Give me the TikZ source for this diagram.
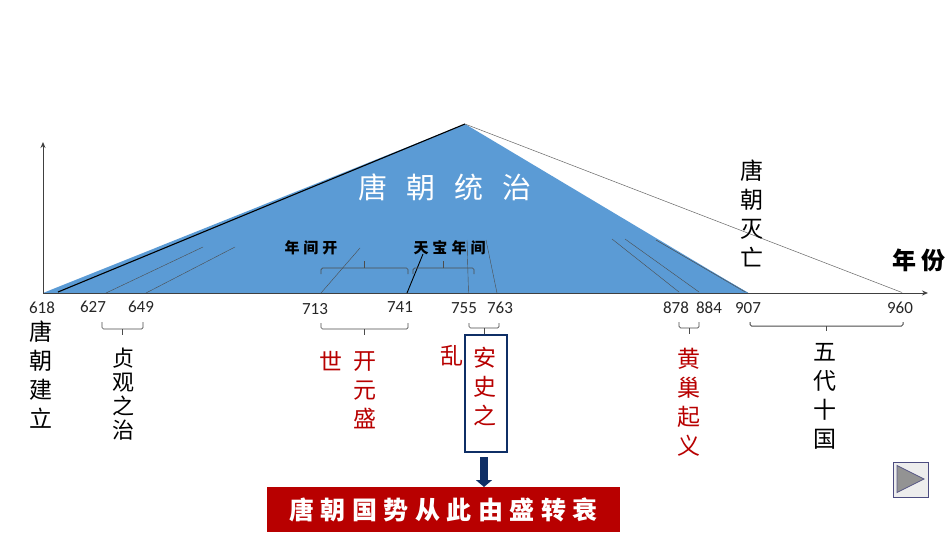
\documentclass[tikz,border=0pt]{standalone}
\usepackage{fontspec}
\setmainfont{Carlito}
\newfontfamily\cjk{Noto Sans CJK SC}
\usetikzlibrary{arrows.meta}
\definecolor{tangblue}{HTML}{5B9BD5}
\definecolor{tangred}{HTML}{B80000}
\definecolor{navy}{HTML}{0F2F66}
\definecolor{axisgray}{HTML}{404040}
\tikzset{
  num/.style={inner sep=0pt,font=\fontsize{17}{17}\selectfont,text=black!85},
  vblack/.style={inner sep=0pt,align=center,font=\cjk\fontsize{23}{29}\selectfont,text=black},
  vred/.style={inner sep=0pt,align=center,font=\cjk\fontsize{23}{29}\selectfont,text=tangred},
  cal/.style={inner sep=0pt,font=\cjk\bfseries\fontsize{15}{15}\selectfont,text=black},
  thin line/.style={draw=black!70,line width=0.4pt},
  brace line/.style={draw=black!70,line width=0.7pt,rounded corners=1.5pt},
}
\newcommand{\braceat}[5]{% x1 x2 ytop yh ytip
  \draw[brace line] (#1,#3) -- (#1,#4) -- (#2,#4) -- (#2,#3);
  \draw[brace line] ({(#1+#2)/2},#4) -- ({(#1+#2)/2},#5);
}
\begin{document}
\begin{tikzpicture}[x=1pt,y=-1pt]
\useasboundingbox (0,0) rectangle (950,535);
\fill[white] (0,0) rectangle (950,535);
% triangle
\coordinate (o) at (43,293);
\coordinate (apex) at (465,124);
\coordinate (tr) at (748,293);
\coordinate (end) at (902,292.5);
\fill[tangblue] (o) -- (apex) -- (tr) -- cycle;
\draw[black,line width=1.1pt] (58,292) -- (apex);
\draw[black!60,line width=0.5pt] (apex) -- (end);
\draw[tangblue!85!black,line width=0.6pt] (656,240) -- (tr);
% internal lines
\draw[thin line] (106,293) -- (203,247);
\draw[thin line] (146,293) -- (235,247);
\draw[thin line] (321,293) -- (360,248);
\draw[black,line width=0.9pt] (407,293) -- (423,254);
\draw[thin line] (468.5,293) -- (467,240);
\draw[thin line] (497,293) -- (486,240);
\draw[thin line] (679,292) -- (612,239);
\draw[thin line] (699,292) -- (625,239);
\draw[thin line] (745,292) -- (656,240);
% axes
\draw[axisgray,line width=1pt,-{Stealth[length=6pt,width=5pt]}] (o) -- (43,142);
\draw[axisgray,line width=1pt,-{Stealth[length=6pt,width=5pt]}] (o) -- (928,293);
% upper labels
\node[inner sep=0pt,text=white,font=\cjk\fontsize{29}{29}\selectfont] (tongzhi) at (445,187) {唐\hspace{19pt}朝\hspace{19pt}统\hspace{19pt}治};
\node[cal] (kaiyuan) at (311,248) {年\hspace{4pt}间\hspace{4pt}开};
\node[cal] (tianbao) at (449.5,248) {天\hspace{4pt}宝\hspace{4pt}年\hspace{4pt}间};
\node[inner sep=0pt,font=\cjk\bfseries\fontsize{24}{24}\selectfont] (nianfen) at (919,260) {年\hspace{5pt}份};
\node[vblack] (miewang) at (752,213.5) {唐\\朝\\灭\\亡};
% upper braces
\draw[brace line] (321,274) -- (321,268) -- (408,268) -- (408,274);
\draw[brace line] (364.5,268) -- (364.5,261);
\draw[brace line] (413,274) -- (413,268) -- (474,268) -- (474,274);
\draw[brace line] (443.5,268) -- (443.5,261);
% year numbers
\node[num] (y618) at (42,308) {618};
\node[num] (y627) at (93,307) {627};
\node[num] (y649) at (141,307) {649};
\node[num] (y713) at (315,309) {713};
\node[num] (y741) at (400,307) {741};
\node[num] (y755) at (464,308) {755};
\node[num] (y763) at (500,308) {763};
\node[num] (y878) at (676,308) {878};
\node[num] (y884) at (709,308) {884};
\node[num] (y907) at (748,308) {907};
\node[num] (y960) at (900,308) {960};
% lower braces
\braceat{102}{143}{322}{329}{335}
\braceat{321}{408}{323}{329}{335}
\braceat{469}{499}{323}{328}{335}
\braceat{679}{699}{322}{328}{334}
\draw[brace line,line width=1pt] (750,322) -- (750,326) -- (903,326) -- (903,322);
\draw[brace line,line width=1pt] (826,326) -- (826,331);
% lower labels
\node[vblack] (jianli) at (41,375) {唐\\朝\\建\\立};
\node[vblack,font=\cjk\fontsize{22}{24}\selectfont] (zhenguan) at (123,394) {贞\\观\\之\\治};
\node[vblack] (wudai) at (825,396.5) {五\\代\\十\\国};
\node[vred] (shi) at (331,361) {世};
\node[vred] (kaisheng) at (365,390) {开\\元\\盛};
\node[vred] (luan) at (452,356) {乱};
\node[vred] (anshi) at (485,386.5) {安\\史\\之};
\node[vred] (huangchao) at (689,402.5) {黄\\巢\\起\\义};
% box, arrow, banner
\node[draw=navy,line width=1.6pt,minimum width=42pt,minimum height=117pt,inner sep=0pt] (box) at (486,393.5) {};
\node[fill=tangred,minimum width=353pt,minimum height=45pt,inner sep=0pt,text=white,font=\cjk\bfseries\fontsize{25}{25}\selectfont] (banner) at (443.5,509.5)
 {唐\hspace{6.5pt}朝\hspace{6.5pt}国\hspace{6.5pt}势\hspace{6.5pt}从\hspace{6.5pt}此\hspace{6.5pt}由\hspace{6.5pt}盛\hspace{6.5pt}转\hspace{6.5pt}衰};
\draw[navy,line width=8pt,-{Triangle[length=7pt,width=16pt]}] (484,457) -- (484,487);
% play button
\node[draw=black!50!blue!40!gray,fill=black!7,line width=1pt,minimum width=35pt,minimum height=35pt,inner sep=0pt] (play) at (910.5,479.5) {};
\fill[gray!85,draw=black!40!blue!30!gray,line width=0.8pt] (897,465.5) -- (924,479) -- (897,492.5) -- cycle;
\end{tikzpicture}
\end{document}
